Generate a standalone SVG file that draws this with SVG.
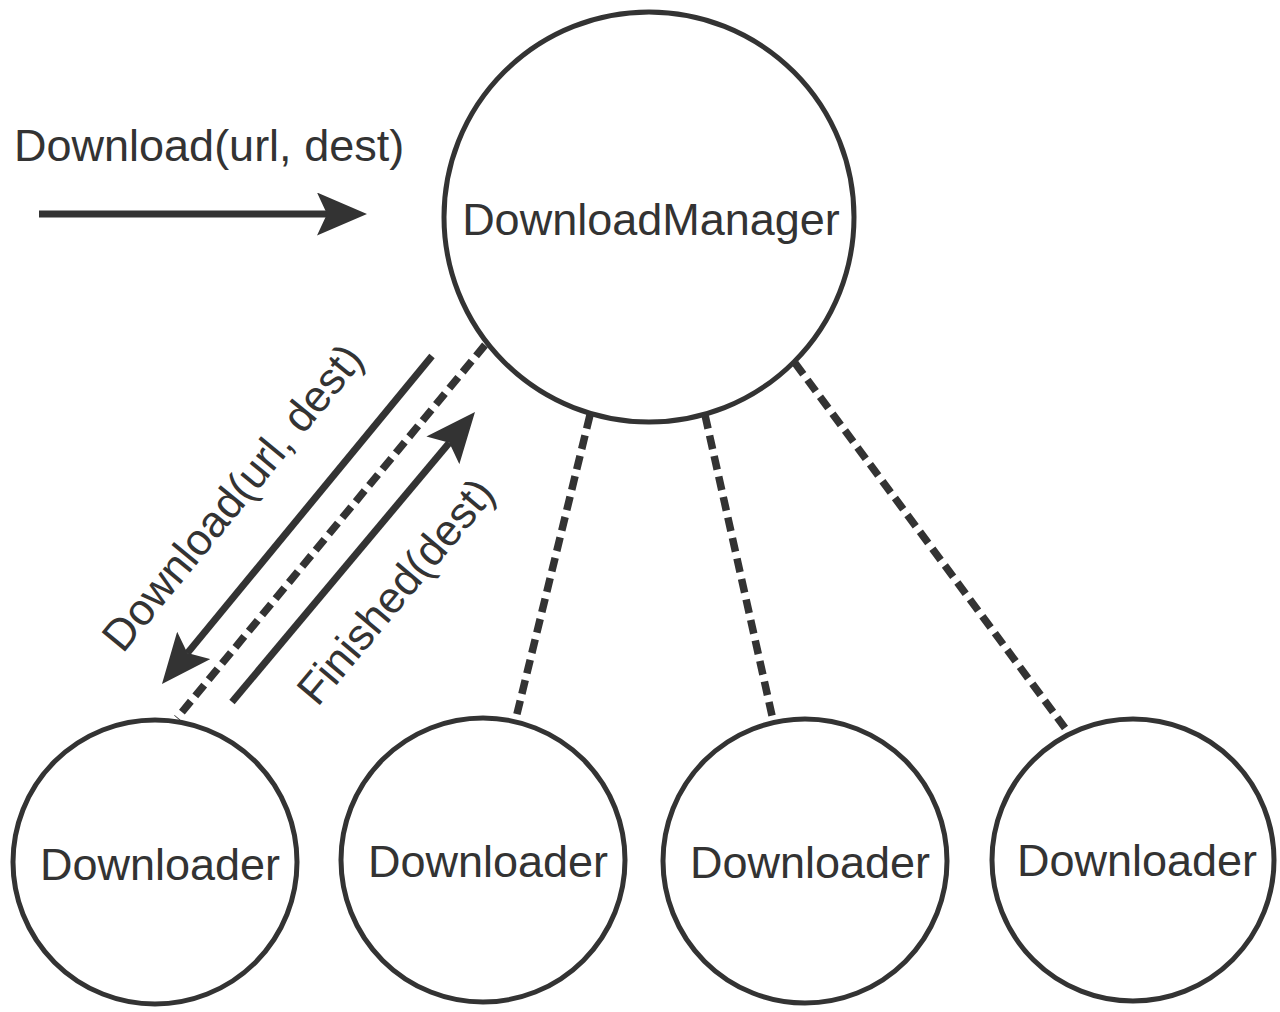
<svg xmlns="http://www.w3.org/2000/svg" width="1280" height="1012" viewBox="0 0 1280 1012">
<style>
.node{fill:#ffffff;stroke:#333333;stroke-width:5}
.lbl{font-family:"Liberation Sans",Arial,sans-serif;font-size:45px;fill:#333333}
.c{text-anchor:middle}
.solid{stroke:#333333;stroke-width:7;fill:none}
.dash{stroke:#333333;stroke-width:7.5;fill:none;stroke-dasharray:14 7}
</style>
<defs>
<marker id="ah" markerUnits="userSpaceOnUse" viewBox="0 0 50 43" markerWidth="50" markerHeight="43" refX="10" refY="21.5" orient="auto">
<path d="M50,21.5 L0,0 L10,21.5 L0,43 Z" fill="#333333"/>
</marker>
</defs>
<rect width="1280" height="1012" fill="#ffffff"/>
<g id="connectors">
<line class="dash" x1="485" y1="345" x2="177" y2="718"/>
<line class="dash" x1="590" y1="415" x2="516" y2="718"/>
<line class="dash" x1="705" y1="415" x2="773" y2="720"/>
<line class="dash" x1="795" y1="363" x2="1065" y2="728"/>
<line class="solid" x1="39" y1="214" x2="327" y2="214" marker-end="url(#ah)"/>
<line class="solid" x1="432" y1="356" x2="187.4" y2="653.1" marker-end="url(#ah)"/>
<line class="solid" x1="232" y1="702" x2="449.3" y2="442.7" marker-end="url(#ah)"/>
<text class="lbl" x="14" y="161">Download(url, dest)</text>
<text class="lbl c" style="font-size:44px" transform="translate(244,507) rotate(-50.5)">Download(url, dest)</text>
<text class="lbl c" style="font-size:44px" transform="translate(407,601) rotate(-50)">Finished(dest)</text>
</g>
<g id="manager">
<circle class="node" cx="649" cy="217" r="205"/>
<text class="lbl c" x="651" y="235">DownloadManager</text>
</g>
<g id="downloader1">
<circle class="node" cx="155" cy="862" r="142"/>
<text class="lbl c" x="160" y="880">Downloader</text>
</g>
<g id="downloader2">
<circle class="node" cx="483" cy="860" r="142"/>
<text class="lbl c" x="488" y="877">Downloader</text>
</g>
<g id="downloader3">
<circle class="node" cx="805" cy="861" r="142"/>
<text class="lbl c" x="810" y="878">Downloader</text>
</g>
<g id="downloader4">
<circle class="node" cx="1133" cy="860" r="141"/>
<text class="lbl c" x="1137" y="876">Downloader</text>
</g>
</svg>
